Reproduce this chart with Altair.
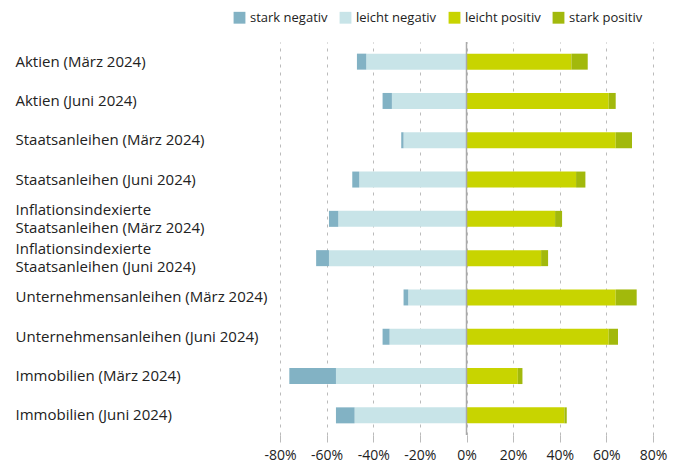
import altair as alt
import pandas as pd

categories = [
    "Aktien (März 2024)",
    "Aktien (Juni 2024)",
    "Staatsanleihen (März 2024)",
    "Staatsanleihen (Juni 2024)",
    "Inflationsindexierte\nStaatsanleihen (März 2024)",
    "Inflationsindexierte\nStaatsanleihen (Juni 2024)",
    "Unternehmensanleihen (März 2024)",
    "Unternehmensanleihen (Juni 2024)",
    "Immobilien (März 2024)",
    "Immobilien (Juni 2024)",
]
stark_negativ = [4, 4, 1, 3, 4, 5.5, 2, 3, 20, 8]
leicht_negativ = [43, 32, 27, 46, 55, 59, 25, 33, 56, 48]
leicht_positiv = [45, 61, 64, 47, 38, 32, 64, 61, 22, 42]
stark_positiv = [7, 3, 7, 4, 3, 3, 9, 4, 2, 1]

series = ["stark negativ", "leicht negativ", "leicht positiv", "stark positiv"]
colors = ["#82b2c4", "#c8e4e8", "#c8d400", "#a2b90c"]

rows = []
for i, c in enumerate(categories):
    ln, sn, lp, sp = leicht_negativ[i], stark_negativ[i], leicht_positiv[i], stark_positiv[i]
    rows.append({"cat": c, "serie": "leicht negativ", "x": 0, "x2": -ln, "v": ln})
    rows.append({"cat": c, "serie": "stark negativ", "x": -ln, "x2": -(ln + sn), "v": sn})
    rows.append({"cat": c, "serie": "leicht positiv", "x": 0, "x2": lp, "v": lp})
    rows.append({"cat": c, "serie": "stark positiv", "x": lp, "x2": lp + sp, "v": sp})
df = pd.DataFrame(rows)

FONT = "Open Sans"

bars = alt.Chart(df).mark_bar(size=16).encode(
    y=alt.Y("cat:N", sort=categories, title=None,
            scale=alt.Scale(paddingInner=0.6, paddingOuter=0.3),
            axis=alt.Axis(labelExpr="split(datum.label, '\\n')", labelAlign="left",
                          labelPadding=265, ticks=False, domain=False, grid=False,
                          labelFontSize=15, labelColor="#222222", labelFont=FONT,
                          labelLineHeight=18, labelLimit=300,
                          labelOffset={"condition": {"test": "indexof(datum.value, '\\n') >= 0",
                                                     "value": -9}, "value": 0})),
    x=alt.X("x:Q", title=None,
            scale=alt.Scale(domain=[-80, 80], nice=False, zero=False),
            axis=alt.Axis(values=list(range(-80, 81, 20)), labelExpr="datum.value + '%'",
                          grid=True, gridDash=[3, 5], gridColor="#bbbbbb", gridWidth=1,
                          domain=False, tickColor="#bbbbbb", tickSize=7,
                          labelFlush=False, labelOverlap=False, labelBound=False,
                          labelFontSize=14, labelColor="#222222", labelFont=FONT,
                          labelPadding=6)),
    x2="x2:Q",
    color=alt.Color("serie:N", sort=series,
                    scale=alt.Scale(domain=series, range=colors),
                    legend=alt.Legend(title=None, orient="none", direction="horizontal",
                                      legendX=-47, legendY=-31, symbolType="square",
                                      symbolSize=140, symbolStrokeWidth=0,
                                      labelFontSize=13, labelFont=FONT, labelColor="#222222",
                                      columnPadding=11, symbolOffset=0)),
)

zero = alt.Chart(pd.DataFrame({"z": [0]})).mark_rule(color="#aaaaaa", strokeWidth=1.5).encode(
    x="z:Q"
)

chart = alt.layer(bars, zero).properties(
    width=373, height=393,
    autosize=alt.AutoSizeParams(type="none"),
    padding={"left": 272, "top": 34, "right": 20, "bottom": 30},
).configure_view(stroke=None)

chart.save("out.html", embed_options={"renderer": "svg", "actions": False})
